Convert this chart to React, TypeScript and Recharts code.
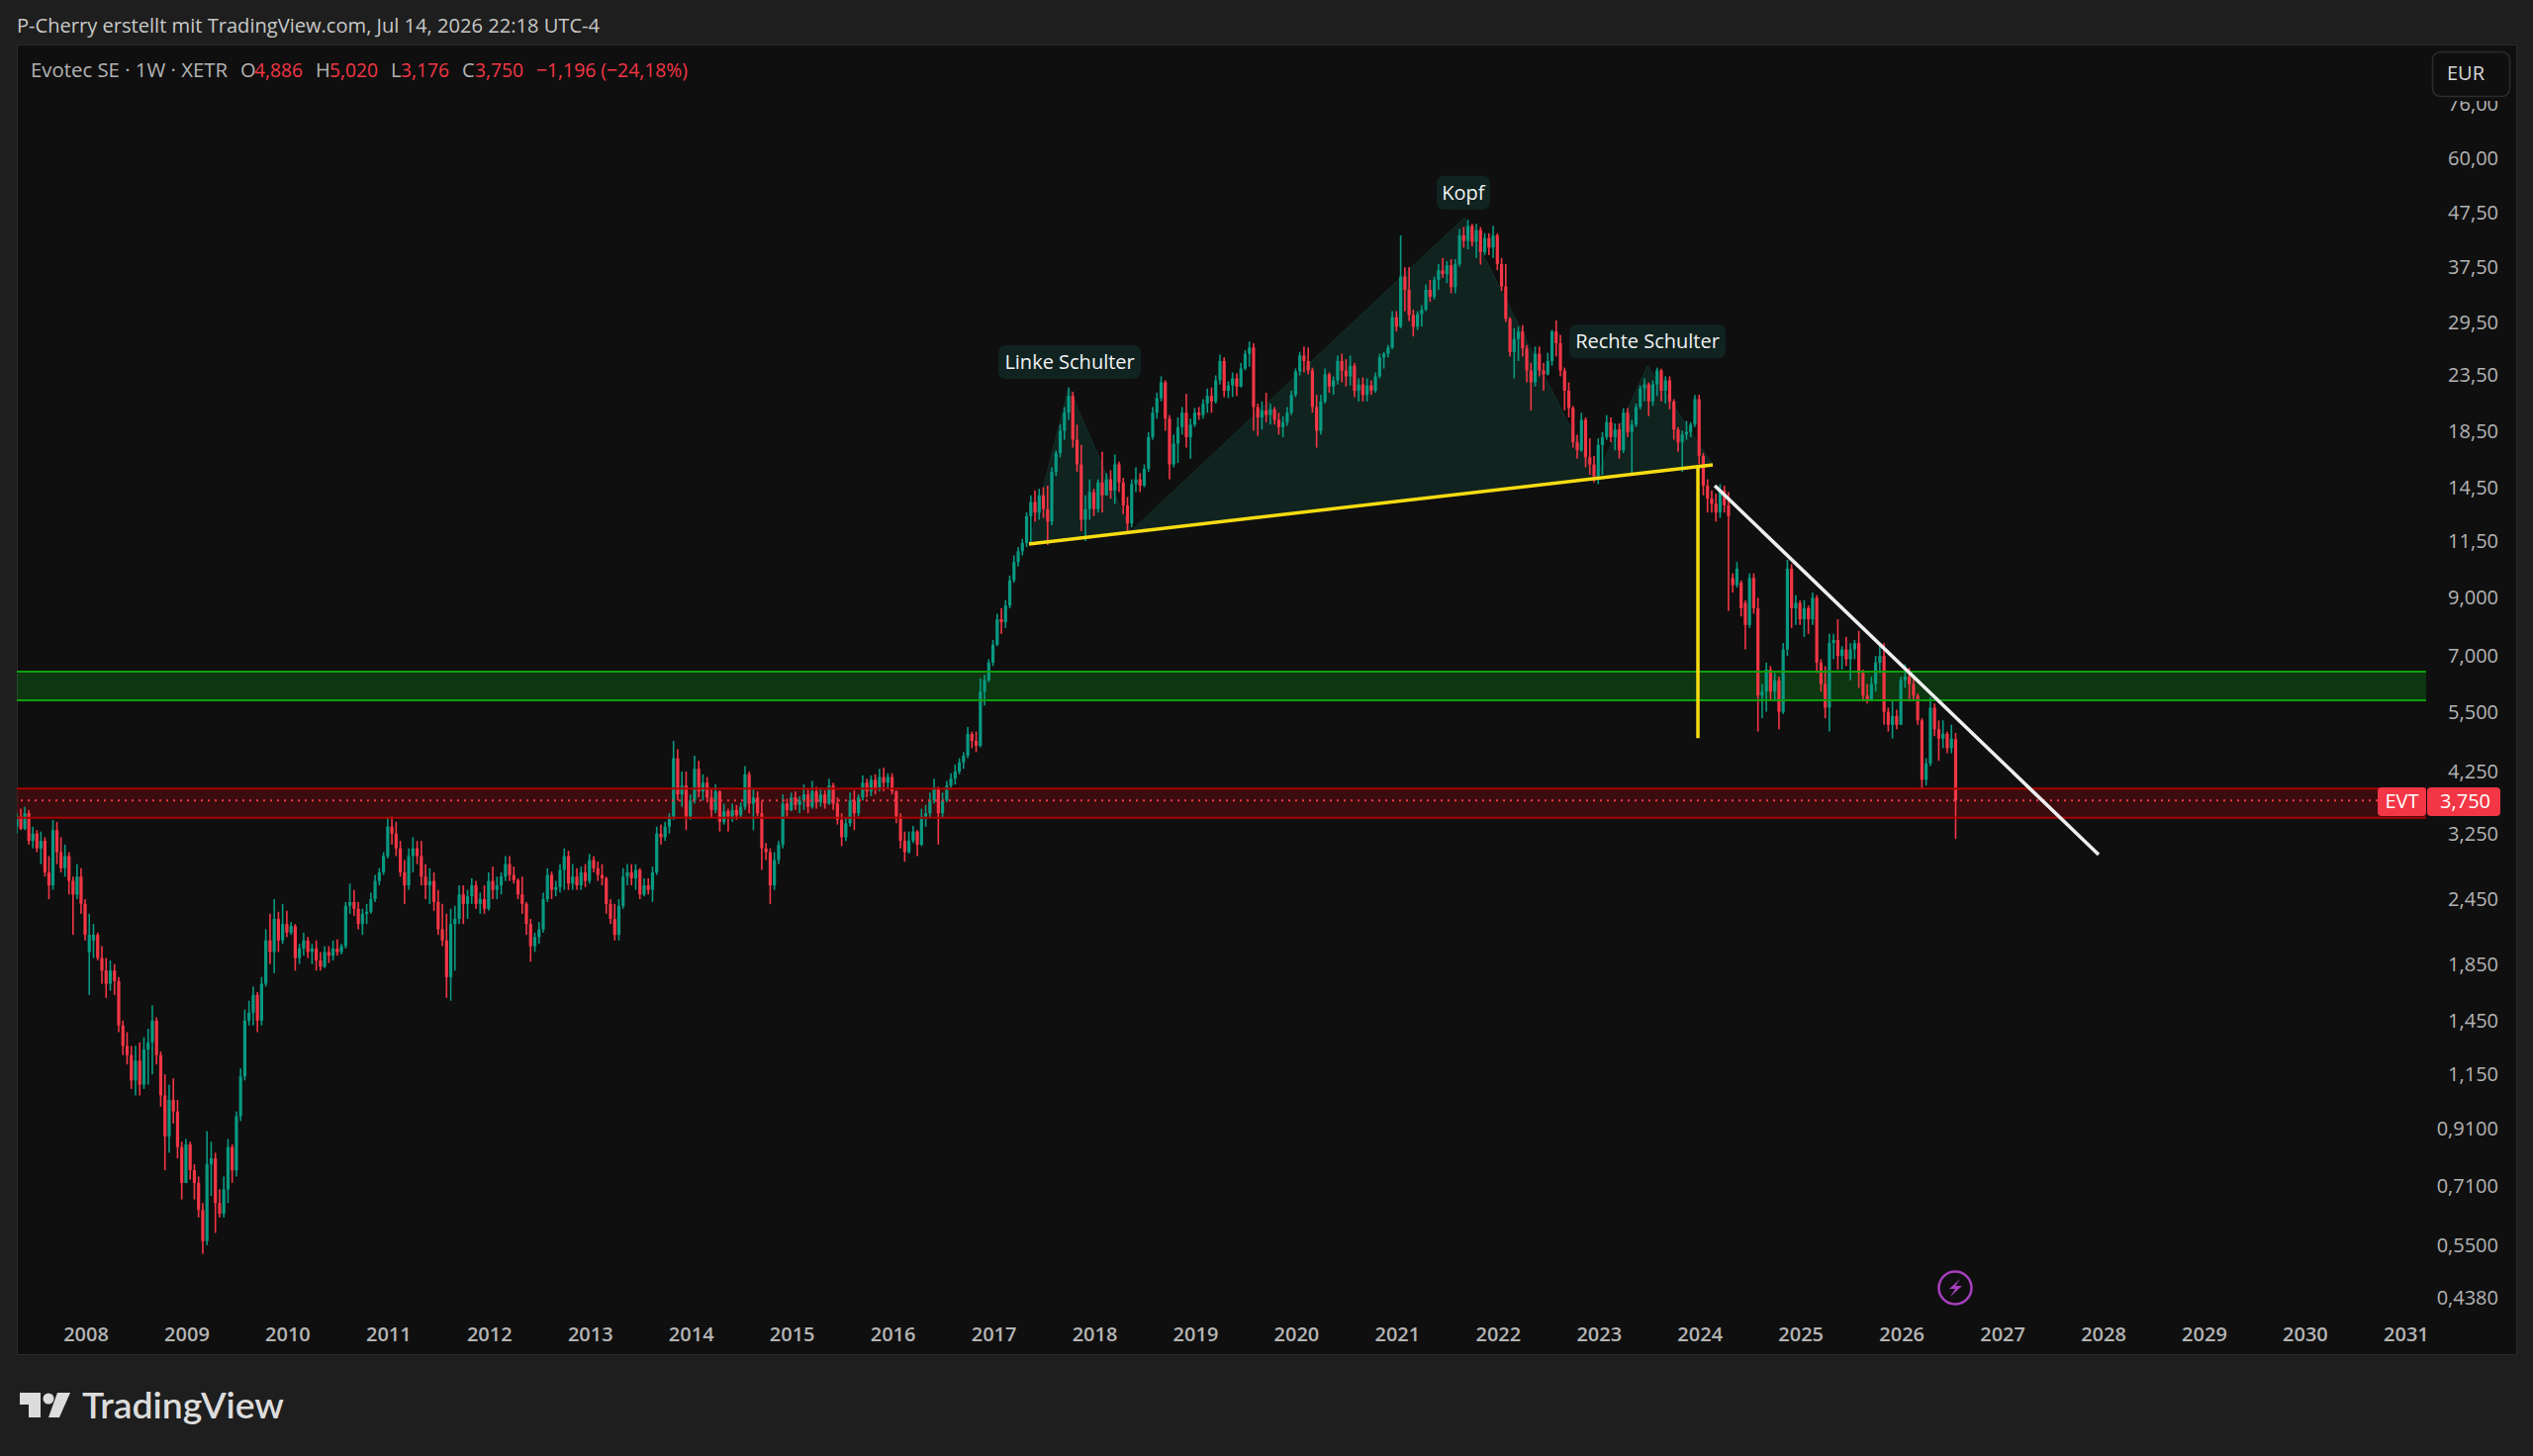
import { Area, Bar, ComposedChart, ReferenceArea, ReferenceDot, ReferenceLine, XAxis, YAxis } from 'recharts';

type Row = number[]; // open, high, low, close

const bars2007: Row[] = [[3.35,3.55,3.25,3.5],[3.5,3.62,3.3,3.32],[3.32,3.65,3.3,3.55],[3.55,3.6,3.1,3.15],[3.15,3.35,3.05,3.25],[3.25,3.3,3,3.05],[3.05,3.28,2.85,3.15],[3.15,3.2,2.7,2.75],[2.75,2.95,2.45,2.6],[2.6,3.45,2.55,3.3],[3.3,3.42,2.85,3],[3,3.2,2.75,2.8],[2.8,3.1,2.7,2.95],[2.95,3,2.5,2.65],[2.65,2.7,2.1,2.5],[2.5,2.85,2.45,2.7],[2.7,2.8,2.3,2.4]];
const bars2008: Row[] = [[2.4,2.45,2.05,2.1],[1.95,2.3,1.62,2.1],[2.05,2.2,1.9,2.1],[2.1,2.12,1.88,1.9],[1.9,2,1.7,1.8],[1.8,1.9,1.6,1.7],[1.7,1.88,1.65,1.8],[1.8,1.85,1.62,1.72],[1.72,1.75,1.38,1.42],[1.42,1.45,1.25,1.3],[1.3,1.38,1.2,1.25],[1.25,1.3,1.08,1.12],[1.12,1.3,1.05,1.22],[1.22,1.32,1.05,1.1],[1.1,1.35,1.08,1.28],[1.28,1.4,1.1,1.32],[1.32,1.55,1.15,1.45],[1.45,1.47,1.2,1.25],[1.25,1.27,1,1.05],[1.05,1.15,.76,.88],[.88,1.1,.82,1.03],[1.03,1.13,.93,.98],[.98,1.03,.8,.84],[.84,.86,.67,.72]];
const bars2009: Row[] = [[.72,.87,.72,.85],[.85,.86,.73,.76],[.76,.78,.67,.72],[.72,.74,.62,.64],[.64,.66,.53,.56],[.56,.9,.55,.78],[.78,.86,.68,.8],[.8,.82,.58,.66],[.66,.7,.62,.63],[.63,.74,.62,.7],[.7,.87,.66,.84],[.84,.85,.72,.76],[.76,.98,.74,.96],[.96,1.18,.94,1.14],[1.14,1.52,1.12,1.45],[1.45,1.58,1.42,1.5],[1.5,1.68,1.42,1.62],[1.62,1.64,1.38,1.45],[1.45,1.75,1.42,1.7],[1.7,2.15,1.68,2.05],[2.05,2.3,1.85,1.95],[1.95,2.45,1.78,2.25],[2.25,2.32,1.95,2.05],[2.05,2.4,2.02,2.2]];
const bars2010: Row[] = [[2.2,2.33,2.08,2.12],[2.12,2.22,2.1,2.18],[2.18,2.2,1.8,1.9],[1.9,2.02,1.85,1.98],[1.98,2.12,1.92,2.05],[2.05,2.08,1.9,1.95],[1.95,2.02,1.85,1.98],[1.98,2.05,1.8,1.88],[1.88,1.95,1.8,1.83],[1.83,2,1.82,1.95],[1.95,2,1.86,1.92],[1.92,2.05,1.88,1.98],[1.98,2.06,1.92,1.95],[1.95,2.02,1.93,2],[2,2.42,1.98,2.38],[2.38,2.62,2.3,2.42],[2.42,2.55,2.28,2.35],[2.35,2.42,2.15,2.2],[2.2,2.35,2.1,2.3],[2.3,2.4,2.2,2.32],[2.32,2.52,2.3,2.45],[2.45,2.72,2.42,2.65],[2.65,2.8,2.6,2.75],[2.75,3,2.72,2.95]];
const bars2011: Row[] = [[2.95,3.48,2.92,3.35],[3.35,3.5,3.1,3.25],[3.25,3.42,2.95,3.05],[3.05,3.15,2.7,2.75],[2.75,2.9,2.4,2.6],[2.6,3.05,2.55,2.95],[2.95,3.2,2.75,3.05],[3.05,3.15,2.85,2.95],[2.95,3.15,2.6,2.7],[2.7,2.85,2.45,2.6],[2.6,2.8,2.4,2.65],[2.65,2.75,2.33,2.42],[2.42,2.55,2.1,2.15],[2.15,2.4,2,2.05],[2.05,2.3,1.6,1.75],[1.75,2.35,1.58,2.2],[2.2,2.38,1.8,2.25],[2.25,2.6,2.2,2.5],[2.5,2.6,2.2,2.4],[2.4,2.55,2.25,2.48],[2.48,2.68,2.4,2.6],[2.6,2.65,2.35,2.4],[2.4,2.52,2.3,2.45],[2.45,2.6,2.3,2.35]];
const bars2012: Row[] = [[2.35,2.75,2.33,2.65],[2.65,2.82,2.45,2.55],[2.55,2.7,2.45,2.6],[2.6,2.75,2.5,2.7],[2.7,2.95,2.65,2.85],[2.85,2.95,2.65,2.72],[2.72,2.82,2.62,2.66],[2.66,2.68,2.45,2.5],[2.5,2.7,2.3,2.4],[2.4,2.42,2.1,2.2],[2.2,2.25,1.87,2],[2,2.12,1.95,2.08],[2.08,2.22,2.02,2.15],[2.15,2.52,2.12,2.45],[2.45,2.8,2.42,2.72],[2.72,2.76,2.45,2.55],[2.55,2.65,2.48,2.58],[2.58,2.85,2.52,2.78],[2.78,3.05,2.55,2.95],[2.95,3.02,2.55,2.62],[2.62,2.85,2.55,2.7],[2.7,2.8,2.55,2.6],[2.6,2.82,2.55,2.75],[2.75,2.85,2.58,2.65]];
const bars2013: Row[] = [[2.65,2.98,2.62,2.9],[2.9,2.95,2.75,2.8],[2.8,2.88,2.65,2.72],[2.72,2.85,2.6,2.68],[2.68,2.7,2.3,2.4],[2.4,2.45,2.2,2.25],[2.25,2.4,2.05,2.1],[2.1,2.45,2.05,2.38],[2.38,2.8,2.35,2.7],[2.7,2.85,2.6,2.75],[2.75,2.85,2.6,2.68],[2.68,2.85,2.55,2.78],[2.78,2.8,2.45,2.5],[2.5,2.68,2.48,2.6],[2.6,2.68,2.5,2.55],[2.55,2.82,2.42,2.75],[2.75,3.35,2.72,3.25],[3.25,3.38,3.1,3.2],[3.2,3.42,3.15,3.35],[3.35,3.55,3.25,3.5],[3.5,4.85,3.45,4.5],[4.5,4.68,3.75,3.85],[3.85,4.25,3.65,4],[4,4.25,3.3,3.5]];
const bars2014: Row[] = [[3.5,3.85,3.45,3.75],[3.75,4.55,3.7,4.3],[4.3,4.45,3.8,3.9],[3.9,4.2,3.75,4.05],[4.05,4.15,3.72,3.8],[3.8,3.95,3.48,3.6],[3.6,4.02,3.55,3.9],[3.9,3.92,3.28,3.42],[3.42,3.7,3.38,3.58],[3.58,3.62,3.28,3.5],[3.5,3.7,3.42,3.6],[3.6,3.68,3.45,3.52],[3.52,3.72,3.48,3.65],[3.65,4.35,3.6,4.2],[4.2,4.25,3.55,3.7],[3.7,3.95,3.3,3.8],[3.8,3.9,3.5,3.55],[3.55,3.75,2.78,3.05],[3.05,3.12,2.9,3],[3,3.05,2.4,2.6],[2.6,3,2.55,2.9],[2.9,3.15,2.85,3.1],[3.1,3.85,3.05,3.7],[3.7,3.78,3.5,3.6]];
const bars2015: Row[] = [[3.6,3.88,3.58,3.8],[3.8,3.9,3.6,3.68],[3.68,3.82,3.55,3.75],[3.75,4.02,3.6,3.85],[3.85,3.95,3.55,3.65],[3.65,4.08,3.62,3.9],[3.9,3.98,3.62,3.72],[3.72,3.95,3.65,3.85],[3.85,3.92,3.62,3.7],[3.7,4.12,3.68,4],[4,4.05,3.6,3.7],[3.7,3.8,3.38,3.45],[3.45,3.55,3.08,3.2],[3.2,3.48,3.15,3.4],[3.4,3.88,3.35,3.75],[3.75,3.92,3.3,3.55],[3.55,3.85,3.5,3.8],[3.8,4.18,3.75,4.05],[4.05,4.12,3.8,3.9],[3.9,4.18,3.82,4.1],[4.1,4.2,3.85,3.95],[3.95,4.3,3.9,4.15],[4.15,4.32,3.9,4.05],[4.05,4.22,3.95,4.15]];
const bars2016: Row[] = [[4.15,4.22,3.85,3.9],[3.9,3.92,3.4,3.5],[3.5,3.55,3.05,3.15],[3.15,3.28,2.88,3],[3,3.28,2.98,3.15],[3.15,3.36,3.12,3.28],[3.28,3.3,2.95,3.1],[3.1,3.62,3.08,3.5],[3.5,3.68,3.35,3.55],[3.55,3.88,3.48,3.75],[3.75,4.12,3.7,3.95],[3.95,3.98,3.1,3.55],[3.55,3.88,3.48,3.75],[3.75,4.08,3.72,4],[4,4.22,3.95,4.12],[4.12,4.38,4.02,4.25],[4.25,4.5,4.2,4.42],[4.42,4.62,4.3,4.55],[4.55,5.15,4.5,5],[5,5.05,4.7,4.85],[4.85,5.05,4.62,4.75],[4.75,6.35,4.72,6],[6,6.45,5.65,6.3],[6.3,6.9,6.25,6.8]];
const bars2017: Row[] = [[6.8,7.5,6.7,7.35],[7.35,8.4,7.3,8.2],[8.2,8.6,7.7,8.1],[8.1,8.9,7.9,8.7],[8.7,9.9,8.6,9.7],[9.7,10.8,9.6,10.5],[10.5,11.2,10.3,11],[11,11.6,10.8,11.4],[11.4,13,11.2,12.8],[12.8,14,11.4,13.6],[13.6,14.3,12.5,13],[13,14.4,12.6,14],[14,14.5,12.7,13.2],[13.2,14.6,11.3,12.5],[12.5,15.8,12.3,15.5],[15.5,17,15.2,16.8],[16.8,19,16.5,18.5],[18.5,20.5,17.8,20],[20,22.3,19.4,21.5],[21.5,21.9,17.2,17.8],[17.8,19,15.5,16],[16,17.4,12,12.6],[12.6,14,11.5,13.2],[13.2,15,12.6,14.2]];
const bars2018: Row[] = [[14.2,14.4,12.8,13.2],[13.2,15,13,14.8],[14.8,16.9,13,14],[14,15.4,14,15],[15,15.6,13.8,14.3],[14.3,16.7,13.5,16],[16,16.2,14.2,14.8],[14.8,15.1,12.9,13.4],[13.4,13.9,12,12.4],[12.4,15,12.2,14.7],[14.7,15.8,14.2,15],[15,15.4,14.2,14.6],[14.6,16,14.5,15.7],[15.7,18.4,15.5,18],[18,20.5,17.8,20],[20,21.8,19.5,21.3],[21.3,23.4,21,22.8],[22.8,23,18.5,19.5],[19.5,19.8,15,16],[16,18.2,15.8,17.5],[17.5,19.6,16.1,18.8],[18.8,20.5,18.2,20],[20,21.7,17.2,18],[18,19.5,16.4,19]];
const bars2019: Row[] = [[19,20.4,18.8,20],[20,20.5,19.4,19.8],[19.8,21.2,19.5,20.8],[20.8,22.2,20,21.5],[21.5,22.3,20,21],[21,23.5,20.8,23],[23,25.7,22.6,25],[25,25.4,21.4,22],[22,22.9,21.3,22.5],[22.5,23.8,21.4,23.2],[23.2,23.7,21.5,22.4],[22.4,24.8,22.3,24.2],[24.2,26.2,24,25.8],[25.8,27.2,24.4,26.5],[26.5,27,18.5,20.5],[20.5,20.8,18.1,19.6],[19.6,21,18.6,20.2],[20.2,21.8,19.2,19.8],[19.8,20.8,19,20.3],[20.3,20.5,19,19.4],[19.4,20,18.2,18.8],[18.8,19.7,18,19.2],[19.2,20.5,18.9,20],[20,22,19.8,21.6]];
const bars2020: Row[] = [[21.6,24.2,21.4,23.9],[23.9,26,23.5,25.6],[25.6,26.6,23.8,25],[25,26.5,23.6,24],[24,24.3,20,20.5],[20.5,21.6,17.2,18.5],[18.5,21.6,18.2,21],[21,24.2,20.8,23.6],[23.6,23.8,21.8,22.4],[22.4,23.4,21.6,23],[23,25.6,22.6,25],[25,25.8,22.8,24],[24,25.2,22.4,23.4],[23.4,25.6,22.5,24.5],[24.5,24.8,21.4,22],[22,23.2,21,22.6],[22.6,23.3,21,21.6],[21.6,23.2,21,22.5],[22.5,23,21.6,22],[22,23.8,21.8,23.4],[23.4,25.8,23.2,25.4],[25.4,26,24.2,25.8],[25.8,26.8,25.4,26.5],[26.5,31,26.3,30.2]];
const bars2021: Row[] = [[30.2,31,28.4,29],[29,43,28.8,36],[36,37.5,31,34],[34,37.5,29.7,30.5],[30.5,31.2,27.8,29],[29,31,28.6,30.6],[30.6,31.8,29,31.2],[31.2,34.8,31,34],[34,35.5,32.3,33],[33,36,32.6,35.5],[35.5,38,34,37],[37,39,35.8,36.4],[36.4,38.5,35,37.8],[37.8,38.8,33.5,34.4],[34.4,38.8,33.5,38],[38,44.2,37.6,43],[43,44.6,40.8,42],[42,46,40.5,44.8],[44.8,45.2,41,41.8],[41.8,45.2,39,44],[44,44.6,37.9,40],[40,43.4,39.5,42.5],[42.5,43.4,39.5,40.8],[40.8,44.8,39,43]];
const bars2022: Row[] = [[43,43.4,37,38],[38,39,33.8,34.5],[34.5,38,29.6,30],[30,30.2,25.5,26],[26,28.8,23.2,27.5],[27.5,29,25,28.4],[28.4,29.2,25.5,26.4],[26.4,26.8,22.8,24],[24,24.8,20.2,22.8],[22.8,26.6,22.4,25.8],[25.8,26.6,23.4,24],[24,24.8,22,23.6],[23.6,25.9,23.5,25],[25,28.6,24.5,28.4],[28.4,29.8,25.5,27],[27,28,23.4,24],[24,24.3,20.2,22],[22,22.8,19.6,20.4],[20.4,20.6,17.2,17.6],[17.6,18.2,16.4,17],[17,20,16.9,19.4],[19.4,19.6,15.8,16.5],[16.5,17.9,15.3,16],[16,16.6,14.8,15.2]];
const bars2023: Row[] = [[15.2,17.9,14.7,17.4],[17.4,18.4,15.3,18],[18,19.8,17.8,19.2],[19.2,19.6,17.6,18],[18,19.1,17,18.6],[18.6,19.1,16.4,17],[17,20.4,16.8,20],[20,20.4,18,18.4],[18.4,19.4,15.3,19],[19,20.8,18.8,20.5],[20.5,22.5,20.3,22.2],[22.2,23.2,21,22.6],[22.6,22.8,19.7,21],[21,23,20.6,22.6],[22.6,24.3,21.5,24],[24,24.2,21,22],[22,23.4,20.8,23],[23,23.4,20.3,21],[21,21.2,17.8,18.6],[18.6,18.8,16.9,17.6],[17.6,18.5,15.5,18.2],[18.2,19.3,17.8,18.4],[18.4,19.2,18,19],[19,21.6,18.8,21.2]];
const bars2024: Row[] = [[21.2,21.6,16,16.6],[16.6,16.8,14,14.6],[14.6,15,13,13.8],[13.8,14.3,13,13.5],[13.5,14.1,12.5,13],[13,14.7,12.7,14.3],[14.3,14.6,13,13.4],[13.4,14.2,8.5,12.8],[9.8,10,9.2,9.5],[9.5,10.5,9.4,10.2],[9.6,9.7,8.3,8.6],[8.8,8.9,7.2,8],[8,10,7.9,9.8],[9.8,10,8.4,8.6],[8.6,9,5.05,5.9],[5.9,6.2,5.35,6],[6,6.8,5.5,6.6],[6.6,6.7,5.8,6],[6,6.5,5.75,6.3],[6.3,6.4,5.1,5.5],[5.5,7.4,5.45,7.2],[7.2,10.6,7,10.2],[10.2,10.4,7.9,8.6],[8.6,9.1,8,8.8]];
const bars2025: Row[] = [[8.8,8.9,8,8.2],[8.2,8.9,7.6,8.6],[8.6,8.7,7.7,8.2],[8.2,9.2,8,9],[9,9.1,6.5,6.8],[6.8,6.9,6,6.2],[6.2,6.7,5.35,5.6],[5.6,7.7,5.05,7.4],[7.4,7.7,6.9,7.5],[7.5,8.2,6.6,7],[7,7.3,6.6,7.2],[7.2,7.6,6.7,6.9],[6.9,7.4,6.3,7.2],[7.2,7.5,6.9,7.4],[7.4,7.8,6.1,6.5],[6.5,6.6,5.75,5.9],[5.9,6.2,5.7,5.8],[5.8,6.4,5.75,6.2],[6.2,7,6,6.8],[6.8,7.3,6.5,7],[7,7.4,5.2,5.5],[5.5,5.6,5.05,5.2],[5.2,5.8,4.9,5.4],[5.4,5.55,5.1,5.2]];
const bars2026: Row[] = [[5.2,6.4,5.2,6.3],[6.3,6.75,6.1,6.4],[6.4,6.65,5.75,6.2],[6.2,6.35,5.8,5.9],[5.9,5.95,5.2,5.3],[5.3,5.35,3.95,4.1],[4.1,4.5,4,4.4],[4.4,5.85,4.35,5.6],[5.6,5.7,4.95,5.1],[5.1,5.3,4.45,4.9],[4.9,5.3,4.7,5],[5,5.05,4.6,4.7],[4.7,5.2,4.6,4.9],[4.886,5.02,3.176,3.75]];

const yearStarts = [2007.323, 2008, 2009, 2010, 2011, 2012, 2013, 2014, 2015, 2016, 2017, 2018, 2019, 2020, 2021, 2022, 2023, 2024, 2025, 2026, 2026.585];
const yearBars = [bars2007, bars2008, bars2009, bars2010, bars2011, bars2012, bars2013, bars2014, bars2015, bars2016, bars2017, bars2018, bars2019, bars2020, bars2021, bars2022, bars2023, bars2024, bars2025, bars2026];

const candles = yearBars.flatMap((rows, y) =>
  rows.map((r, i) => ({
    t: yearStarts[y] + (i * (yearStarts[y + 1] - yearStarts[y])) / rows.length,
    o: r[0],
    h: r[1],
    l: r[2],
    c: r[3],
    range: [r[2], r[1]],
  })),
);

const xTicks = [2008, 2009, 2010, 2011, 2012, 2013, 2014, 2015, 2016, 2017, 2018, 2019, 2020, 2021, 2022, 2023, 2024, 2025, 2026, 2027, 2028, 2029, 2030, 2031];
const priceTicks = [76, 60, 47.5, 37.5, 29.5, 23.5, 18.5, 14.5, 11.5, 9, 7, 5.5, 4.25, 3.25, 2.45, 1.85, 1.45, 1.15, 0.91, 0.71, 0.55, 0.438];

// head and shoulders drawing: [time, neckline, top]
const patternTimes = [2017.357, 2017.75, 2018.368, 2021.673, 2022.978, 2023.488, 2024.135];
const patternNeck = [11.35, 11.58, 12.0, 14.14, 15.12, 15.5, 15.97];
const patternTop = [11.35, 22.3, 12.0, 46.4, 15.12, 24.5, 15.97];
const patternData = patternTimes.map((t, i) => ({ t, range: [patternNeck[i], patternTop[i]] }));

const GREEN = '#089981';
const RED = '#f23645';
const AXIS_TEXT = '#b4b4b4';
const FONT = '"Open Sans", sans-serif';

const fmtPrice = (v: number) => (v >= 10 ? v.toFixed(2) : v >= 1 ? v.toFixed(3) : v.toFixed(4)).replace('.', ',');

function Candle(props: any) {
  const { x, y, width, height, payload } = props;
  if (!payload || !height) return null;
  const { o, h, l, c } = payload;
  const at = (v: number) => y + (height * (Math.log(h) - Math.log(v))) / (Math.log(h) - Math.log(l));
  const top = at(Math.max(o, c));
  const bottom = at(Math.min(o, c));
  const color = c >= o ? GREEN : RED;
  const mid = x + width / 2;
  return (
    <g>
      <rect x={mid - 0.8} y={y} width={1.6} height={height} fill={color} />
      <rect x={mid - 1.6} y={top} width={3.2} height={Math.max(bottom - top, 1)} fill={color} />
    </g>
  );
}

function PriceTick({ x, y, payload }: any) {
  return (
    <text x={x + 65} y={y} dy={7} textAnchor="end" fill={AXIS_TEXT} fontSize={20} fontFamily={FONT}>
      {fmtPrice(payload.value)}
    </text>
  );
}

function YearTick({ x, y, payload }: any) {
  return (
    <text x={x + 1} y={y + 17.5} textAnchor="middle" fill={AXIS_TEXT} fontSize={20} fontWeight={600} fontFamily={FONT}>
      {payload.value}
    </text>
  );
}

function NoteBox({ cx, cy, text, w }: any) {
  return (
    <g>
      <rect x={cx - w / 2} y={cy - 17} width={w} height={34} rx={7} fill="#102321" />
      <text x={cx} y={cy + 7} textAnchor="middle" fill="#f2f2f2" fontSize={20} fontFamily={FONT}>
        {text}
      </text>
    </g>
  );
}

function Chrome() {
  return (
    <svg width={2560} height={1472} style={{ position: 'absolute', left: 0, top: 0, pointerEvents: 'none' }}>
      <text x={17} y={33} fill="#c8c8c8" fontSize={20} fontFamily={FONT} textLength={589} lengthAdjust="spacingAndGlyphs">
        P-Cherry erstellt mit TradingView.com, Jul 14, 2026 22:18 UTC-4
      </text>
      <g fontSize={20} fontFamily={FONT}>
        <text x={31} y={78} fill="#b4b4b4" textLength={199} lengthAdjust="spacingAndGlyphs">Evotec SE · 1W · XETR</text>
        <text x={243} y={78} fill="#b4b4b4">O</text>
        <text x={257} y={78} fill={RED} textLength={49} lengthAdjust="spacingAndGlyphs">4,886</text>
        <text x={319} y={78} fill="#b4b4b4">H</text>
        <text x={333} y={78} fill={RED} textLength={49} lengthAdjust="spacingAndGlyphs">5,020</text>
        <text x={395} y={78} fill="#b4b4b4">L</text>
        <text x={405} y={78} fill={RED} textLength={49} lengthAdjust="spacingAndGlyphs">3,176</text>
        <text x={467} y={78} fill="#b4b4b4">C</text>
        <text x={480} y={78} fill={RED} textLength={49} lengthAdjust="spacingAndGlyphs">3,750</text>
        <text x={542} y={78} fill={RED} textLength={153} lengthAdjust="spacingAndGlyphs">−1,196 (−24,18%)</text>
      </g>

      <rect x={2458} y={52} width={80} height={50} fill="#0f0f0f" />
      <rect x={2458.5} y={52.5} width={78} height={45} rx={8} fill="#0f0f0f" stroke="#2c2c2c" strokeWidth={1.5} />
      <text x={2492} y={81} textAnchor="middle" fill="#d8d8d8" fontSize={20} fontFamily={FONT}>EUR</text>

      <rect x={2403} y={796} width={49} height={29} rx={4} fill={RED} />
      <text x={2427.5} y={817} textAnchor="middle" fill="#ffffff" fontSize={20} fontFamily={FONT}>EVT</text>
      <rect x={2453} y={796} width={74} height={29} rx={4} fill={RED} />
      <text x={2517} y={817} textAnchor="end" fill="#ffffff" fontSize={20} fontFamily={FONT}>3,750</text>

      <circle cx={1976} cy={1302} r={16.5} fill="none" stroke="#a63fbd" strokeWidth={2.5} />
      <path d="M1981 1293 L1970 1303 L1976 1303 L1971 1311 L1983 1300 L1976.5 1300 Z" fill="#a63fbd" />

      <path d="M20 1408 H41 V1433 H29 V1420 H20 Z" fill="#dcdcdc" />
      <circle cx={49} cy={1414} r={5.5} fill="#dcdcdc" />
      <path d="M58 1408 H71 L60 1433 H49 Z" fill="#dcdcdc" />
      <text x={83} y={1434} fill="#dcdcdc" fontSize={36} fontWeight={600} fontFamily='Lato, sans-serif' textLength={204} lengthAdjust="spacingAndGlyphs">
        TradingView
      </text>
    </svg>
  );
}

export default function App() {
  return (
    <div style={{ position: 'absolute', left: 0, top: 0, width: 2560, height: 1472, background: '#1e1e1e', overflow: 'hidden' }}>
      <div style={{ position: 'absolute', left: 17, top: 45, width: 2525, height: 1323, background: '#0f0f0f', border: '1px solid #2a2a2a' }} />
      <div style={{ position: 'absolute', left: 0, top: 0 }}>
        <ComposedChart width={2560} height={1472} data={candles} margin={{ top: 46, right: 18, bottom: 103, left: 17 }}>
          <XAxis
            dataKey="t"
            type="number"
            domain={[2007.323, 2031.207]}
            allowDataOverflow
            ticks={xTicks}
            interval={0}
            height={39}
            axisLine={false}
            tickLine={false}
            tick={<YearTick />}
          />
          <YAxis
            orientation="right"
            type="number"
            scale="log"
            domain={[0.406, 97.6]}
            allowDataOverflow
            ticks={priceTicks}
            interval={0}
            width={90}
            axisLine={false}
            tickLine={false}
            tick={<PriceTick />}
          />
          <ReferenceArea y1={5.78} y2={6.54} fill="#099118" fillOpacity={0.3} stroke="none" />
          <ReferenceArea y1={3.48} y2={3.95} fill="#91060c" fillOpacity={0.33} stroke="none" />
          <ReferenceLine y={6.54} stroke="#0ea00e" strokeWidth={2} />
          <ReferenceLine y={5.78} stroke="#0ea00e" strokeWidth={2} />
          <ReferenceLine y={3.95} stroke="#aa0000" strokeWidth={2} />
          <ReferenceLine y={3.48} stroke="#aa0000" strokeWidth={2} />
          <ReferenceLine y={3.75} stroke={RED} strokeWidth={2} strokeDasharray="2 5" />
          <Area
            data={patternData}
            dataKey="range"
            type="linear"
            fill="#10231f"
            fillOpacity={1}
            stroke="#14302b"
            strokeWidth={1}
            dot={false}
            isAnimationActive={false}
          />
          <Bar dataKey="range" barSize={4} shape={<Candle />} isAnimationActive={false} />
          <ReferenceLine segment={[{ x: 2017.357, y: 11.35 }, { x: 2024.135, y: 15.97 }]} stroke="#f7dc11" strokeWidth={3.5} />
          <ReferenceLine segment={[{ x: 2023.988, y: 15.8 }, { x: 2023.988, y: 4.91 }]} stroke="#f7dc11" strokeWidth={3.5} />
          <ReferenceLine segment={[{ x: 2024.155, y: 14.6 }, { x: 2027.96, y: 2.968 }]} stroke="#efefef" strokeWidth={3.5} />
          <ReferenceDot x={2021.663} y={51.7} r={1} shape={(p: any) => <NoteBox {...p} text="Kopf" w={54} />} />
          <ReferenceDot x={2017.76} y={24.9} r={1} shape={(p: any) => <NoteBox {...p} text="Linke Schulter" w={144} />} />
          <ReferenceDot x={2023.488} y={27.2} r={1} shape={(p: any) => <NoteBox {...p} text="Rechte Schulter" w={158} />} />
        </ComposedChart>
      </div>
      <Chrome />
    </div>
  );
}
